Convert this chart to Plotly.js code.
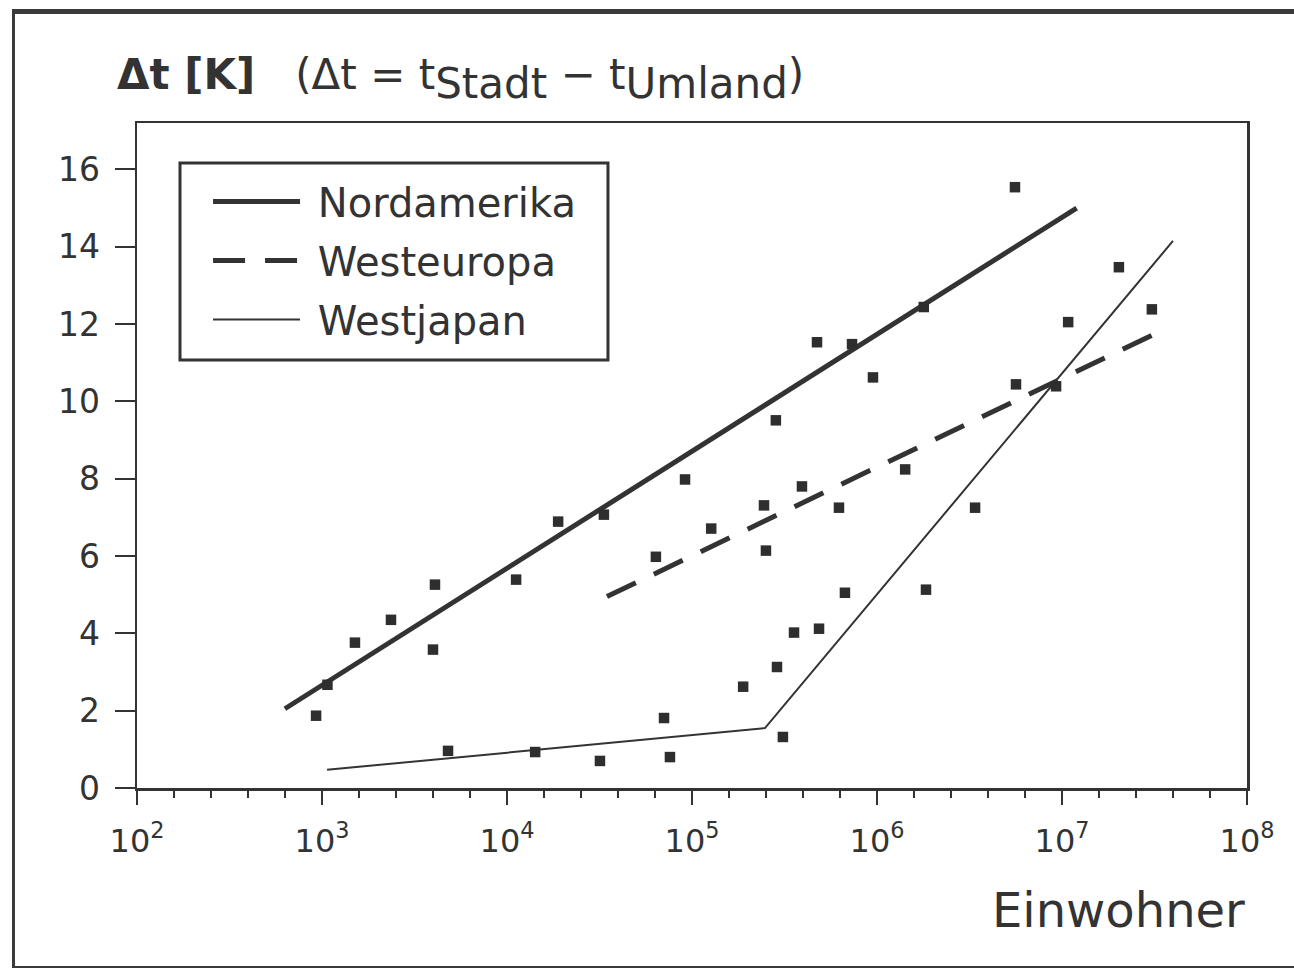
<!DOCTYPE html>
<html>
<head>
<meta charset="utf-8">
<script src="https://cdn.plot.ly/plotly-3.0.1.min.js"></script>
<style>
  html, body { margin: 0; padding: 0; background: #fff; }
  #wrap { position: relative; width: 1294px; height: 968px; overflow: hidden; }
  #chart { position: absolute; left: 0; top: 0; width: 1294px; height: 968px; }
  #frame { position: absolute; left: 12px; top: 9px; width: 1300px; height: 952px;
           border-top: 5px solid #3a3a3a; border-left: 3px solid #3a3a3a; border-bottom: 5px solid #3a3a3a;
           pointer-events: none; }
</style>
</head>
<body>
<div id="wrap">
  <div id="chart"></div>
  <div id="frame"></div>
</div>
<script>
// ---- Data ----
// Trend lines (Einwohner, Δt in K)
const nordamerikaX = [630, 12000000];
const nordamerikaY = [2.05, 15.0];

const westeuropaX = [34700, 36000000];
const westeuropaY = [4.95, 11.87];

const westjapanX = [1065, 248000, 39800000];
const westjapanY = [0.47, 1.55, 14.15];

// Individual cities (Einwohner, Δt in K)
const cityPop = [929, 1070, 1507, 2360, 4080, 3980, 4800, 11200, 14200, 18900,
  33400, 31800, 63800, 70600, 76000, 91700, 127000, 189000, 245000, 251000,
  284000, 288000, 310000, 356000, 393000, 474000, 486000, 623000, 671000, 733000,
  951000, 1420000, 1790000, 1840000, 3390000, 5570000, 5640000, 9290000, 10800000,
  20300000, 30600000];
const cityDt = [1.87, 2.67, 3.76, 4.35, 5.26, 3.58, 0.96, 5.39, 0.93, 6.89,
  7.07, 0.70, 5.98, 1.81, 0.80, 7.98, 6.71, 2.62, 7.31, 6.14,
  9.51, 3.13, 1.32, 4.02, 7.80, 11.53, 4.12, 7.25, 5.05, 11.48,
  10.62, 8.24, 12.44, 5.13, 7.25, 15.54, 10.44, 10.39, 12.05,
  13.47, 12.38];

// Axis ticks
const xTickVals = [1e2, 1e3, 1e4, 1e5, 1e6, 1e7, 1e8];
const xTickText = ['10<sup>2</sup>', '10<sup>3</sup>', '10<sup>4</sup>', '10<sup>5</sup>',
                   '10<sup>6</sup>', '10<sup>7</sup>', '10<sup>8</sup>'];
const yTickVals = [0, 2, 4, 6, 8, 10, 12, 14, 16];

// Series names
const seriesNames = ['Nordamerika', 'Westeuropa', 'Westjapan'];

// ---- Styling ----
const ink = '#333333';
const FONT = 'DejaVu Sans, Liberation Sans, Arial, sans-serif';
const pad = '\u00a0';

const traces = [
  {
    x: nordamerikaX, y: nordamerikaY, type: 'scatter', mode: 'lines',
    name: pad + seriesNames[0], legendgroup: 'a',
    line: { color: ink, width: 5 }
  },
  {
    x: westeuropaX, y: westeuropaY, type: 'scatter', mode: 'lines',
    name: pad + seriesNames[1], legendgroup: 'b',
    line: { color: ink, width: 5, dash: '32px,20px' }
  },
  {
    x: westjapanX, y: westjapanY, type: 'scatter', mode: 'lines',
    name: pad + seriesNames[2], legendgroup: 'c',
    line: { color: ink, width: 2 }
  },
  {
    x: cityPop, y: cityDt, type: 'scatter', mode: 'markers',
    name: 'Städte', showlegend: false,
    marker: { symbol: 'square', size: 10.5, color: '#2e2e2e' }
  }
];

const layout = {
  width: 1294, height: 968,
  paper_bgcolor: '#ffffff', plot_bgcolor: '#ffffff',
  margin: { l: 137, r: 47, t: 123, b: 180 },
  font: { family: FONT, color: ink },
  showlegend: true,
  legend: {
    x: 0.064, y: 0.9308, xanchor: 'left', yanchor: 'top',
    bgcolor: 'rgba(0,0,0,0)', borderwidth: 0,
    font: { family: FONT, size: 40, color: ink },
    itemwidth: 87, traceorder: 'grouped', tracegroupgap: 4
  },
  shapes: [
    {
      type: 'rect', xref: 'paper', yref: 'paper',
      x0: 0.03874, x1: 0.4243, y0: 0.6436, y1: 0.9398,
      line: { color: ink, width: 3 }, fillcolor: 'rgba(0,0,0,0)', layer: 'above'
    }
  ],
  xaxis: {
    type: 'log', range: [2, 8],
    showgrid: false, zeroline: false,
    showline: true, linecolor: ink, linewidth: 2.5, mirror: true,
    ticks: 'outside', ticklen: 14, tickwidth: 2, tickcolor: ink,
    tickmode: 'array', tickvals: xTickVals, ticktext: xTickText,
    tickfont: { family: FONT, size: 32, color: ink },
    ticklabelstandoff: 9,
    minor: { dtick: 0.2, ticks: 'outside', ticklen: 7, tickwidth: 1.5, tickcolor: ink, showgrid: false }
  },
  yaxis: {
    range: [0, 17.2],
    showgrid: false, zeroline: false,
    showline: true, linecolor: ink, linewidth: 2.5, mirror: true,
    ticks: 'outside', ticklen: 20, tickwidth: 2, tickcolor: ink,
    tickmode: 'array', tickvals: yTickVals,
    tickfont: { family: FONT, size: 33, color: ink },
    ticklabelstandoff: 8
  },
  annotations: [
    {
      xref: 'paper', yref: 'paper', x: -0.0198, y: 1.066, xanchor: 'left', yanchor: 'middle',
      showarrow: false,
      text: '<b>Δt [K]</b>&nbsp;&nbsp;&nbsp;(Δt = t<sub><span style="font-size:42px">Stadt</span></sub> − t<sub><span style="font-size:42px">Umland</span></sub>)',
      font: { family: FONT, size: 42, color: ink }
    },
    {
      xref: 'paper', yref: 'paper', x: 1, y: -0.183, xanchor: 'right', yanchor: 'middle',
      showarrow: false,
      text: 'Einwohner',
      font: { family: FONT, size: 48, color: ink }
    }
  ]
};

Plotly.newPlot('chart', traces, layout, { displayModeBar: false, staticPlot: true });
</script>
</body>
</html>
